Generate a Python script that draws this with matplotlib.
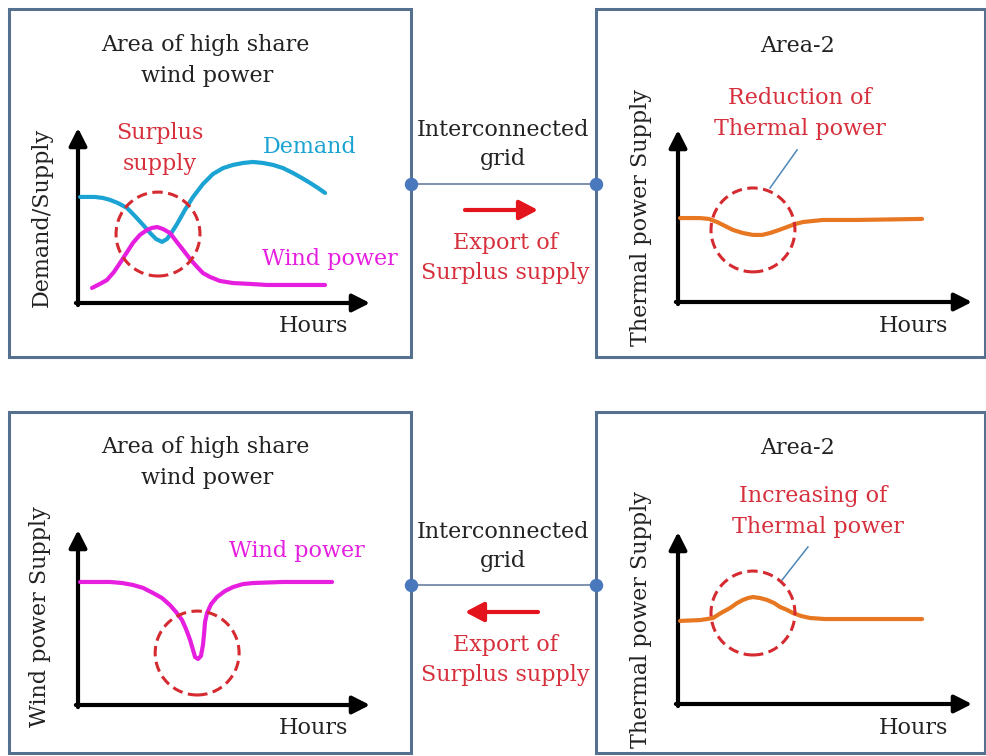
import numpy as np
import matplotlib
matplotlib.use("Agg")
import matplotlib.pyplot as plt
from matplotlib.patches import Rectangle, FancyArrowPatch

# Curvas esquemáticas (unidades arbitrarias 0-100 en cada mini gráfico)
# Panel superior izquierdo: demanda y eólica
dem_x = [0.7, 3.4, 5.8, 8.6, 11.0, 13.7, 16.8, 19.5, 22.3, 24.7, 26.7, 28.8, 30.5, 32.2, 33.9, 36.6,
         39.4, 42.8, 46.2, 49.7, 53.1, 56.5, 59.9, 63.4, 66.8, 70.2, 73.6, 76.7, 79.5, 82.2, 84.6]
dem_y = [60.6, 60.6, 60.6, 60.0, 58.9, 57.1, 54.3, 49.7, 44.6, 40.0, 36.6, 34.9, 36.6, 40.6, 45.1, 53.1,
         60.6, 68.0, 73.7, 77.1, 78.9, 80.0, 80.6, 80.0, 78.9, 77.1, 74.3, 71.4, 68.6, 65.7, 62.9]
wind1_x = [4.8, 7.5, 9.9, 12.3, 14.4, 16.8, 18.8, 21.2, 23.6, 25.3, 27.1, 29.1, 31.5, 33.6, 36.0,
           38.4, 40.8, 42.8, 45.2, 48.6, 53.1, 58.9, 64.7, 76.0, 84.6]
wind1_y = [8.6, 10.9, 13.1, 17.7, 22.9, 29.1, 34.3, 38.9, 41.7, 42.9, 43.4, 42.3, 40.0, 35.4, 30.3,
           25.1, 20.6, 17.1, 14.9, 12.6, 11.4, 10.9, 10.3, 10.3, 10.3]

# Panel superior derecho: térmica (reducción)
therm1_x = [0.7, 7.5, 10.5, 13.3, 16.0, 18.7, 22.1, 25.5, 28.6, 31.3, 34.4, 37.1, 39.8, 42.5, 45.9, 49.3, 60.9, 83.0]
therm1_y = [48.8, 48.8, 48.3, 46.5, 44.2, 41.9, 40.1, 39.0, 39.0, 40.1, 41.9, 43.6, 45.3, 46.5, 47.1, 47.7, 47.7, 48.3]

# Panel inferior izquierdo: eólica con caída
wind2_x = [0.7, 11.0, 15.1, 18.8, 22.3, 25.7, 28.8, 31.5, 33.6, 35.6, 37.0, 38.4, 39.4, 40.1, 41.1, 42.1,
           42.8, 43.2, 43.5, 44.2, 45.6, 47.6, 50.3, 53.1, 56.5, 59.9, 70.2, 87.0]
wind2_y = [70.3, 70.3, 69.7, 68.6, 66.9, 64.0, 61.1, 57.1, 53.1, 48.6, 43.4, 37.1, 31.4, 27.4, 26.3, 28.0,
           34.3, 41.1, 47.4, 52.6, 57.7, 61.7, 65.1, 67.4, 69.1, 69.7, 70.3, 70.3]

# Panel inferior derecho: térmica (aumento)
therm2_x = [0.7, 7.5, 9.9, 11.9, 14.6, 17.7, 20.1, 22.1, 23.8, 25.5, 27.9, 30.3, 32.7, 34.7, 37.1,
            39.1, 41.8, 44.9, 50.0, 55.1, 83.0]
therm2_y = [48.3, 48.8, 49.4, 50.0, 52.9, 55.8, 58.7, 60.5, 61.6, 62.2, 61.6, 60.5, 58.7, 56.4, 54.7,
            52.9, 51.2, 50.0, 49.4, 49.4, 49.4]

# Centros de los círculos punteados
circ_tl = (27.4, 39.4)
circ_tr = (25.5, 41.9)
circ_bl = (40.8, 29.7)
circ_br = (25.5, 52.9)

W, H = 987, 756
FONT = "DejaVu Serif"
FS = 16
DARK = "#222222"
RED_TXT = "#d6303c"
CYAN = "#1aa3d3"
MAGENTA = "#e61ee0"
ORANGE = "#e87722"
FRAME = "#56708f"
CIRC = "#d42a30"

fig = plt.figure(figsize=(W / 100, H / 100), dpi=100)
base = fig.add_axes([0, 0, 1, 1])
base.set_xlim(0, W)
base.set_ylim(H, 0)
base.axis("off")


def px_axes(x0, x1, ytop, ybot):
    ax = fig.add_axes([x0 / W, 1 - ybot / H, (x1 - x0) / W, (ybot - ytop) / H])
    ax.set_xlim(0, 100)
    ax.set_ylim(0, 100)
    ax.axis("off")
    # ejes con flecha
    for xy, xyt in [((100, 0), (-0.72, 0)), ((0, 100), (0, -1.2))]:
        ax.add_patch(FancyArrowPatch(xyt, xy, arrowstyle="-|>,head_length=0.75,head_width=0.38",
                                     mutation_scale=14, lw=3, color="black",
                                     shrinkA=0, shrinkB=0, clip_on=False))
    return ax


def circle(ax, c):
    ax.scatter([c[0]], [c[1]], s=3650, facecolors="none", edgecolors=CIRC,
               linewidths=2.2, linestyles=(0, (3.4, 1.8)), clip_on=False, zorder=3)


def curve(ax, x, y, color):
    ax.plot(x, y, color=color, lw=3, solid_capstyle="round", solid_joinstyle="round")


def txt(x, y, s, color=DARK, rot=0):
    base.text(x, y, s, ha="center", va="center", fontsize=FS, family=FONT,
              color=color, rotation=rot)


# Marcos
for x0, y0, x1, y1 in [(9, 9, 411, 357), (596, 9, 985, 357), (9, 412, 411, 753), (596, 412, 985, 753)]:
    base.add_patch(Rectangle((x0, y0), x1 - x0, y1 - y0, fill=False, ec=FRAME, lw=2.2))

# Red interconectada
for yl in (184, 585):
    base.plot([411, 596], [yl, yl], color="#7d92ad", lw=1.4)
    base.scatter([411, 596], [yl, yl], s=75, color="#4a78bd", zorder=4)

arrow_style = "-|>,head_length=0.8,head_width=0.42"
base.add_patch(FancyArrowPatch((465, 210), (538, 210), arrowstyle=arrow_style,
                               mutation_scale=14, lw=3, color="#e3141b", shrinkA=0, shrinkB=0))
base.add_patch(FancyArrowPatch((538, 612), (465, 612), arrowstyle=arrow_style,
                               mutation_scale=14, lw=3, color="#e3141b", shrinkA=0, shrinkB=0))

for dy in (0, 402):
    txt(503, 130 + dy, "Interconnected")
    txt(503, 159 + dy, "grid")
    txt(505, 243 + dy, "Export of", RED_TXT)
    txt(505, 273 + dy, "Surplus supply", RED_TXT)
    txt(205, 45 + dy, "Area of high share")
    txt(207, 76 + dy, "wind power")
    txt(797, 46 + dy, "Area-2")
    txt(313, 326 + dy, "Hours")
    txt(913, 326 + dy, "Hours")
    txt(641, 217 + dy, "Thermal power Supply", rot=90)

txt(42, 217, "Demand/Supply", rot=90)
txt(40, 617, "Wind power Supply", rot=90)
txt(160, 133, "Surplus", RED_TXT)
txt(160, 164, "supply", RED_TXT)
txt(310, 147, "Demand", CYAN)
txt(330, 259, "Wind power", MAGENTA)
txt(800, 98, "Reduction of", RED_TXT)
txt(800, 129, "Thermal power", RED_TXT)
txt(297, 551, "Wind power", MAGENTA)
txt(813, 496, "Increasing of", RED_TXT)
txt(818, 527, "Thermal power", RED_TXT)

# Panel superior izquierdo
ax1 = px_axes(78, 370, 128, 303)
curve(ax1, dem_x, dem_y, CYAN)
curve(ax1, wind1_x, wind1_y, MAGENTA)
circle(ax1, circ_tl)

# Panel superior derecho
ax2 = px_axes(678, 972, 130, 302)
curve(ax2, therm1_x, therm1_y, ORANGE)
circle(ax2, circ_tr)
ax2.plot([31.3, 40.5], [66.3, 88.4], color="#4d86b8", lw=1.1)

# Panel inferior izquierdo
ax3 = px_axes(78, 370, 530, 705)
curve(ax3, wind2_x, wind2_y, MAGENTA)
circle(ax3, circ_bl)

# Panel inferior derecho
ax4 = px_axes(678, 972, 532, 704)
curve(ax4, therm2_x, therm2_y, ORANGE)
circle(ax4, circ_br)
ax4.plot([35.4, 44.2], [72.1, 91.3], color="#4d86b8", lw=1.1, clip_on=False)

fig.savefig("out.png", dpi=100)
